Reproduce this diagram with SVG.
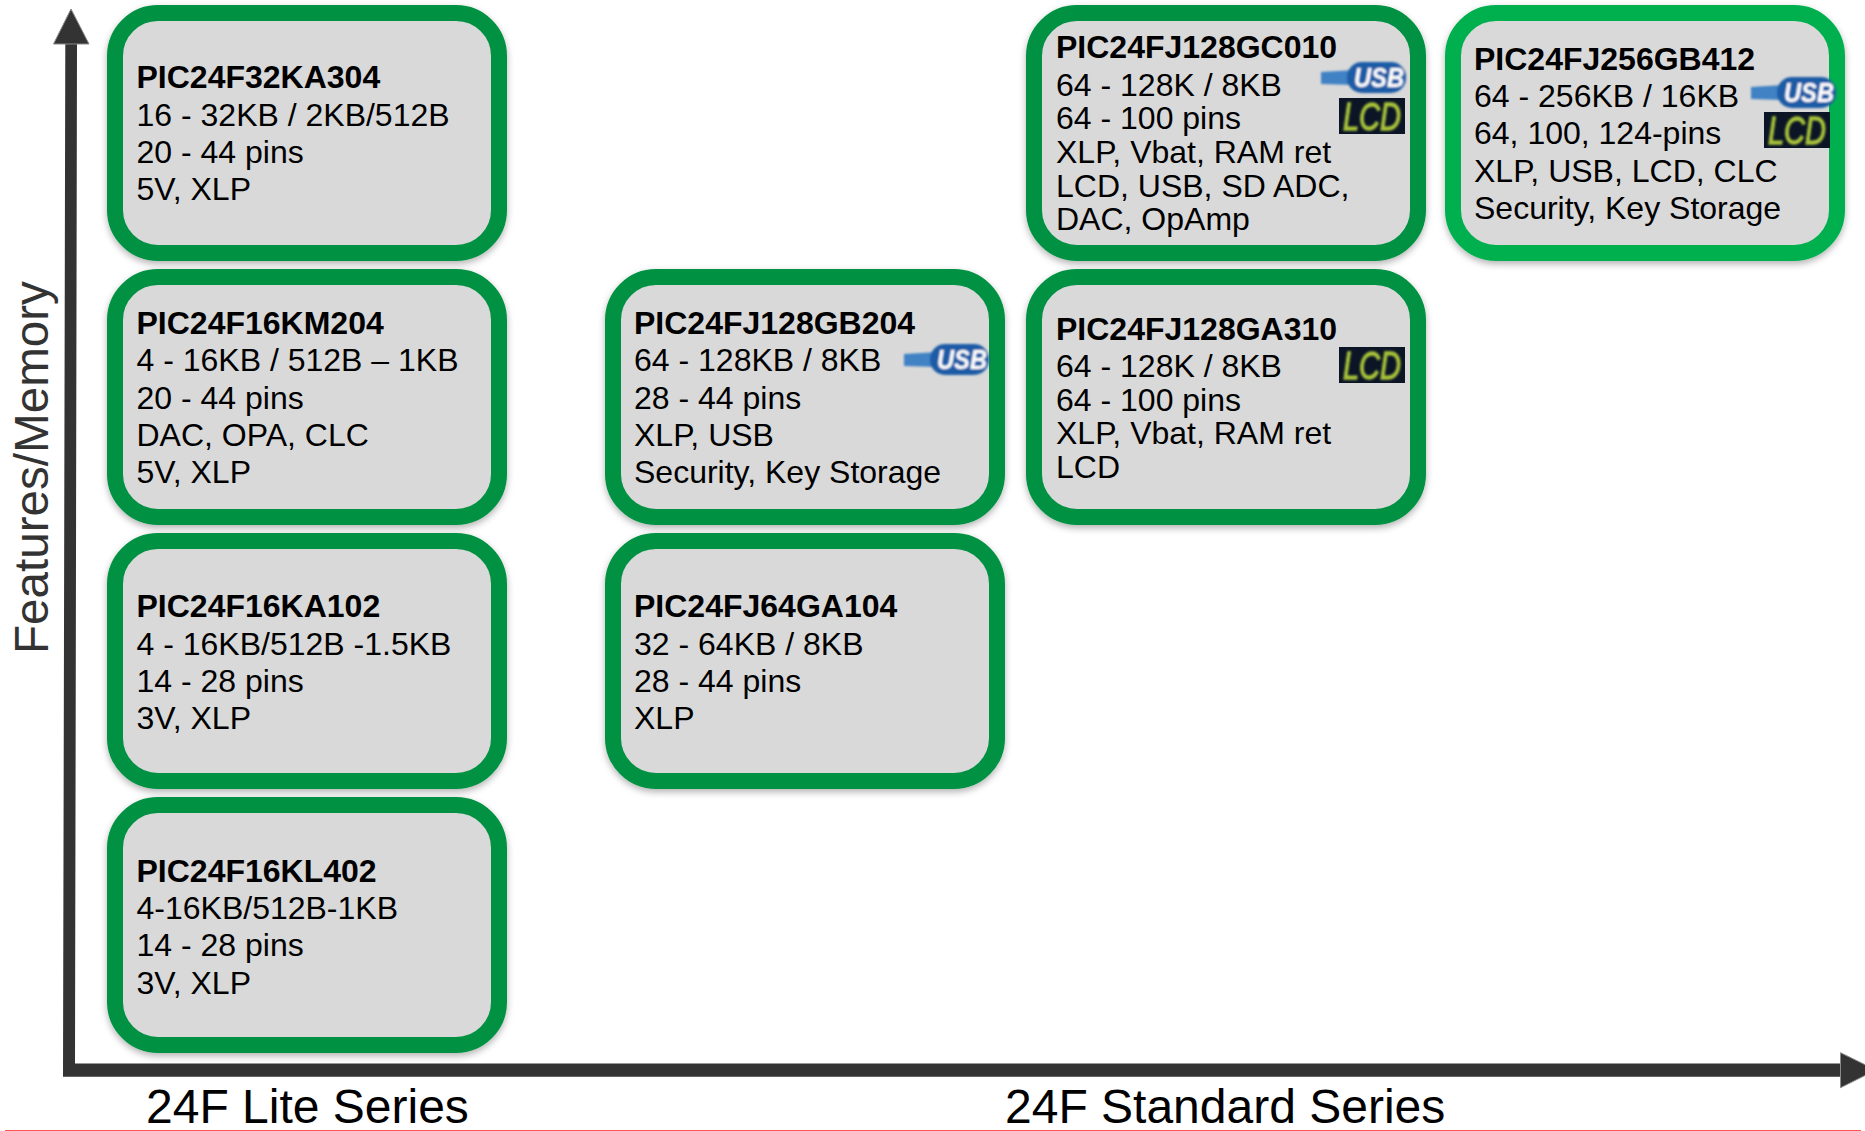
<svg xmlns="http://www.w3.org/2000/svg" width="1865" height="1131" viewBox="0 0 1865 1131">
<style>
text{font-family:"Liberation Sans",Arial,sans-serif;fill:#000}
.t{font-size:32px;font-weight:700}
.b{font-size:32px}
.axis{font-size:48px}
.box{fill:#d9d9d9;stroke:#009143;stroke-width:16;filter:url(#sh)}
.box2{stroke:#00b050}
.ax{fill:#333;stroke:none}
.hd{fill:#333;stroke:#8a8a8a;stroke-width:1}
.usbtxt{font-size:27px;font-weight:700;font-style:italic;fill:#fff}
.lcdtxt{font-size:38px;font-style:italic;fill:#a8c23a;stroke:#a8c23a;stroke-width:1.3}
.soft{filter:url(#bl)}
</style>
<defs>
<filter id="sh" x="-10%" y="-10%" width="120%" height="125%"><feDropShadow dx="0" dy="3" stdDeviation="3.5" flood-color="#000" flood-opacity=".3"/></filter>
<filter id="bl" x="-10%" y="-10%" width="120%" height="120%"><feGaussianBlur stdDeviation=".9"/></filter>
</defs>
<rect width="1865" height="1131" fill="#fff"/>
<g id="connectors">
<polygon class="ax" points="65.3,44 77,44 75,1063.5 1840,1063.5 1840,1076.7 63,1076.7"/>
<polygon class="hd" points="71,9 89,44 53.5,44"/>
<polygon class="hd" points="1840.5,1052.7 1876,1070 1840.5,1087.7"/>
</g>
<line id="rule" x1="5" y1="1130.5" x2="1861" y2="1130.5" stroke="#ff5555" stroke-width="1"/>
<g id="axis-labels">
<text class="axis" transform="translate(48,654) rotate(-90)" style="fill:#333;font-size:47.6px">Features/Memory</text>
<text class="axis" x="146" y="1123">24F Lite Series</text>
<text class="axis" x="1005" y="1123">24F Standard Series</text>
</g>
<g id="n-ka304">
<rect class="box" x="115" y="13" width="384" height="240" rx="43"/>
<text class="t" x="136.5" y="88">PIC24F32KA304</text>
<text class="b" x="136.5" y="126">16 - 32KB / 2KB/512B</text>
<text class="b" x="136.5" y="163">20 - 44 pins</text>
<text class="b" x="136.5" y="199.500">5V, XLP</text>
</g>
<g id="n-km204">
<rect class="box" x="115" y="277" width="384" height="240" rx="43"/>
<text class="t" x="136.5" y="334">PIC24F16KM204</text>
<text class="b" x="136.5" y="371">4 - 16KB / 512B – 1KB</text>
<text class="b" x="136.5" y="409">20 - 44 pins</text>
<text class="b" x="136.5" y="446">DAC, OPA, CLC</text>
<text class="b" x="136.5" y="483">5V, XLP</text>
</g>
<g id="n-ka102">
<rect class="box" x="115" y="541" width="384" height="240" rx="43"/>
<text class="t" x="136.5" y="617">PIC24F16KA102</text>
<text class="b" x="136.5" y="655">4 - 16KB/512B -1.5KB</text>
<text class="b" x="136.5" y="692">14 - 28 pins</text>
<text class="b" x="136.5" y="729">3V, XLP</text>
</g>
<g id="n-kl402">
<rect class="box" x="115" y="805" width="384" height="240" rx="43"/>
<text class="t" x="136.5" y="882">PIC24F16KL402</text>
<text class="b" x="136.5" y="919">4-16KB/512B-1KB</text>
<text class="b" x="136.5" y="956">14 - 28 pins</text>
<text class="b" x="136.5" y="994">3V, XLP</text>
</g>
<g id="n-gb204">
<rect class="box" x="613" y="277" width="384" height="240" rx="43"/>
<text class="t" x="634" y="334">PIC24FJ128GB204</text>
<text class="b" x="634" y="371">64 - 128KB / 8KB</text>
<text class="b" x="634" y="409">28 - 44 pins</text>
<text class="b" x="634" y="446">XLP, USB</text>
<text class="b" x="634" y="483">Security, Key Storage</text>
<g class="soft" transform="translate(-418,282)">
<path d="M1322 72 L1356 70 V85 L1322 84Z" fill="#3f82c4"/>
<rect x="1348" y="62" width="59" height="31" rx="15" fill="#1c5ba6"/>
<text class="usbtxt" x="1355" y="87" textLength="50" lengthAdjust="spacingAndGlyphs">USB</text>
</g>
</g>
<g id="n-ga104">
<rect class="box" x="613" y="541" width="384" height="240" rx="43"/>
<text class="t" x="634" y="617">PIC24FJ64GA104</text>
<text class="b" x="634" y="655">32 - 64KB / 8KB</text>
<text class="b" x="634" y="692">28 - 44 pins</text>
<text class="b" x="634" y="729">XLP</text>
</g>
<g id="n-gc010">
<rect class="box" x="1034" y="13" width="384" height="240" rx="43"/>
<text class="t" x="1056" y="58">PIC24FJ128GC010</text>
<text class="b" x="1056" y="96">64 - 128K / 8KB</text>
<text class="b" x="1056" y="129">64 - 100 pins</text>
<text class="b" x="1056" y="163">XLP, Vbat, RAM ret</text>
<text class="b" x="1056" y="197">LCD, USB, SD ADC,</text>
<text class="b" x="1056" y="230">DAC, OpAmp</text>
<g class="soft" transform="translate(-1,0)">
<path d="M1322 72 L1356 70 V85 L1322 84Z" fill="#3f82c4"/>
<rect x="1348" y="62" width="59" height="31" rx="15" fill="#1c5ba6"/>
<text class="usbtxt" x="1355" y="87" textLength="50" lengthAdjust="spacingAndGlyphs">USB</text>
</g>
<rect x="1339" y="98" width="66" height="36" fill="#0b1526"/>
<text class="lcdtxt soft" x="1343" y="130" textLength="58" lengthAdjust="spacingAndGlyphs">LCD</text>
</g>
<g id="n-ga310">
<rect class="box" x="1034" y="277" width="384" height="240" rx="43"/>
<text class="t" x="1056" y="340">PIC24FJ128GA310</text>
<text class="b" x="1056" y="377">64 - 128K / 8KB</text>
<text class="b" x="1056" y="410.500">64 - 100 pins</text>
<text class="b" x="1056" y="444">XLP, Vbat, RAM ret</text>
<text class="b" x="1056" y="477.500">LCD</text>
<rect x="1339" y="347" width="66" height="36" fill="#0b1526"/>
<text class="lcdtxt soft" x="1343" y="379" textLength="58" lengthAdjust="spacingAndGlyphs">LCD</text>
</g>
<g id="n-gb412">
<rect class="box box2" x="1453" y="13" width="384" height="240" rx="43"/>
<text class="t" x="1474" y="70">PIC24FJ256GB412</text>
<text class="b" x="1474" y="106.500">64 - 256KB / 16KB</text>
<text class="b" x="1474" y="144">64, 100, 124-pins</text>
<text class="b" x="1474" y="182">XLP, USB, LCD, CLC</text>
<text class="b" x="1474" y="219">Security, Key Storage</text>
<g class="soft" transform="translate(429,15)">
<path d="M1322 72 L1356 70 V85 L1322 84Z" fill="#3f82c4"/>
<rect x="1348" y="62" width="59" height="31" rx="15" fill="#1c5ba6"/>
<text class="usbtxt" x="1355" y="87" textLength="50" lengthAdjust="spacingAndGlyphs">USB</text>
</g>
<rect x="1764" y="112" width="66" height="36" fill="#0b1526"/>
<text class="lcdtxt soft" x="1768" y="144" textLength="58" lengthAdjust="spacingAndGlyphs">LCD</text>
</g>
</svg>
